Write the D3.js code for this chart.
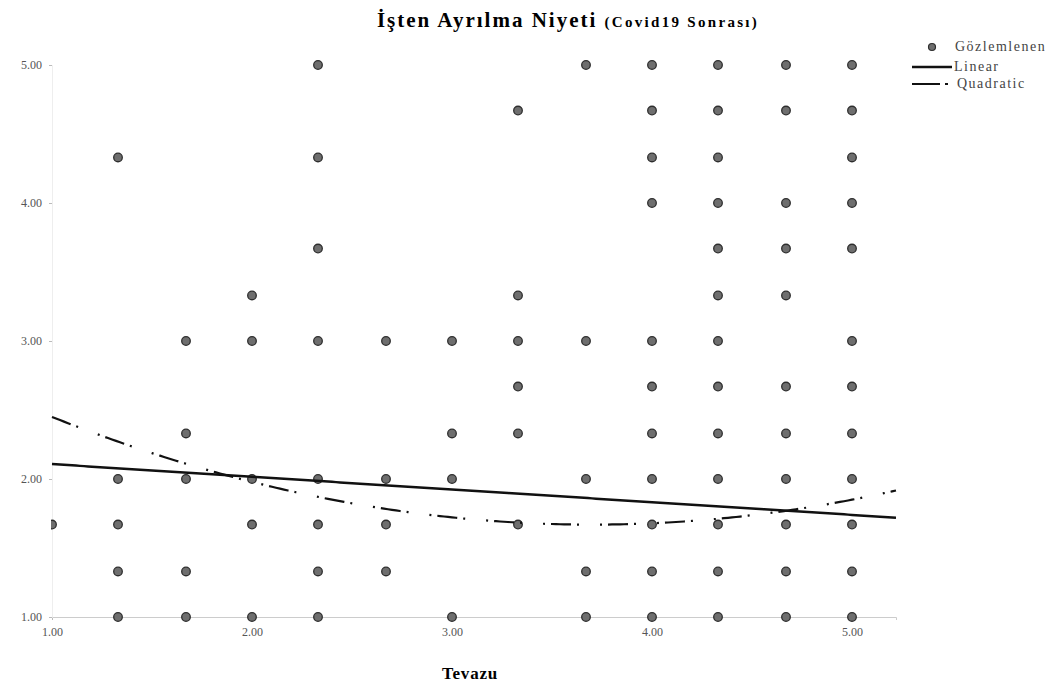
<!DOCTYPE html>
<html>
<head>
<meta charset="utf-8">
<script src="https://cdn.jsdelivr.net/npm/d3@7"></script>
<style>
  body { margin: 0; background: #fff; }
  text { font-family: "Liberation Serif", "DejaVu Serif", serif; }
</style>
</head>
<body>
<svg id="chart" width="1062" height="686"></svg>
<script>
// observed points, one list of Tevazu values per Isten Ayrilma Niyeti level
var yLevels = [5.00, 4.67, 4.33, 4.00, 3.67, 3.33, 3.00, 2.67, 2.33, 2.00, 1.67, 1.33, 1.00];
var xByLevel = [
  [2.33, 3.67, 4.00, 4.33, 4.67, 5.00],
  [3.33, 4.00, 4.33, 4.67, 5.00],
  [1.33, 2.33, 4.00, 4.33, 5.00],
  [4.00, 4.33, 4.67, 5.00],
  [2.33, 4.33, 4.67, 5.00],
  [2.00, 3.33, 4.33, 4.67],
  [1.67, 2.00, 2.33, 2.67, 3.00, 3.33, 3.67, 4.00, 4.33, 5.00],
  [3.33, 4.00, 4.33, 4.67, 5.00],
  [1.67, 3.00, 3.33, 4.00, 4.33, 4.67, 5.00],
  [1.33, 1.67, 2.00, 2.33, 2.67, 3.00, 3.67, 4.00, 4.33, 4.67, 5.00],
  [1.00, 1.33, 2.00, 2.33, 2.67, 3.33, 4.00, 4.33, 4.67, 5.00],
  [1.33, 1.67, 2.33, 2.67, 3.67, 4.00, 4.33, 4.67, 5.00],
  [1.33, 1.67, 2.00, 2.33, 3.00, 3.67, 4.00, 4.33, 4.67, 5.00]
];
// fitted models (intercept, b1, b2)
var linearCoef = [2.20, -0.092];
var quadCoef = [3.135, -0.792, 0.107];
var xTicks = [1, 2, 3, 4, 5];
var yTicks = [1, 2, 3, 4, 5];
var legendLabels = ["Gözlemlenen", "Linear", "Quadratic"];

var points = [];
yLevels.forEach(function(yv, i) {
  xByLevel[i].forEach(function(xv) { points.push({x: xv, y: yv}); });
});

var svg = d3.select("#chart");
var x = d3.scaleLinear().domain([1, 5.22]).range([52, 896]);
var y = d3.scaleLinear().domain([1, 5]).range([617, 65]);

svg.append("defs").append("clipPath").attr("id", "plot")
  .append("rect").attr("x", 51).attr("y", 30).attr("width", 860).attr("height", 600);

// title
var title = svg.append("text")
  .attr("x", 568).attr("y", 27)
  .attr("text-anchor", "middle")
  .style("font-weight", "bold");
title.append("tspan").style("font-size", "21px").style("letter-spacing", "2px").text("İşten Ayrılma Niyeti ");
title.append("tspan").style("font-size", "15px").style("letter-spacing", "2.3px").text("(Covid19 Sonrası)");

// axes
var xAxis = svg.append("g")
  .attr("transform", "translate(0,617)")
  .call(d3.axisBottom(x).tickValues(xTicks).tickFormat(d3.format(".2f")).tickSize(3));
xAxis.select(".domain").attr("stroke", "#ccc");
xAxis.selectAll(".tick line").attr("stroke", "#bbb");
xAxis.selectAll("text").attr("fill", "#555").style("font-size", "12px")
  .style("font-family", "Liberation Serif").attr("dy", "1.1em");

var yAxis = svg.append("g")
  .attr("transform", "translate(52,0)")
  .call(d3.axisLeft(y).tickValues(yTicks).tickFormat(d3.format(".2f")).tickSize(3).tickPadding(7));
yAxis.select(".domain").attr("stroke", "#eee");
yAxis.selectAll(".tick line").attr("stroke", "#bbb");
yAxis.selectAll("text").attr("fill", "#555").style("font-size", "12px")
  .style("font-family", "Liberation Serif");

svg.append("text")
  .attr("x", 470).attr("y", 679)
  .attr("text-anchor", "middle")
  .style("font-size", "17px").style("font-weight", "bold")
  .style("letter-spacing", "0.8px")
  .text("Tevazu");

// points
svg.append("g").attr("clip-path", "url(#plot)")
  .selectAll("circle")
  .data(points)
  .enter().append("circle")
  .attr("cx", function(d) { return x(d.x); })
  .attr("cy", function(d) { return y(d.y); })
  .attr("r", 4.3)
  .attr("fill", "#6e6e6e")
  .attr("stroke", "#2e2e2e")
  .attr("stroke-width", 1.3);

// fit lines
var xs = d3.range(1, 5.2201, 0.02);
var line = d3.line()
  .x(function(d) { return x(d[0]); })
  .y(function(d) { return y(d[1]); });

svg.append("path")
  .datum(xs.map(function(v) { return [v, linearCoef[0] + linearCoef[1] * v]; }))
  .attr("d", line)
  .attr("fill", "none")
  .attr("stroke", "#111")
  .attr("stroke-width", 2.5);

svg.append("path")
  .datum(xs.map(function(v) { return [v, quadCoef[0] + quadCoef[1] * v + quadCoef[2] * v * v]; }))
  .attr("d", line)
  .attr("fill", "none")
  .attr("stroke", "#111")
  .attr("stroke-width", 2.2)
  .attr("stroke-dasharray", "20,6,2,21,2,6");

// legend
var legend = svg.append("g").attr("transform", "translate(912,47)");
legend.append("circle").attr("cx", 20).attr("cy", 0).attr("r", 3.5)
  .attr("fill", "#6e6e6e").attr("stroke", "#2e2e2e").attr("stroke-width", 1.2);
legend.append("line").attr("x1", 0).attr("x2", 40).attr("y1", 20).attr("y2", 20)
  .attr("stroke", "#111").attr("stroke-width", 2.5);
legend.append("line").attr("x1", 0).attr("x2", 38).attr("y1", 37).attr("y2", 37)
  .attr("stroke", "#111").attr("stroke-width", 2.2).attr("stroke-dasharray", "28,5,3,20");
legend.selectAll("text.lbl")
  .data(legendLabels)
  .enter().append("text")
  .attr("class", "lbl")
  .attr("x", function(d, i) { return [43, 42, 45][i]; })
  .attr("y", function(d, i) { return [4, 24, 41][i]; })
  .attr("fill", "#444")
  .style("font-size", "14px")
  .style("letter-spacing", "1.5px")
  .text(function(d) { return d; });
</script>
</body>
</html>
